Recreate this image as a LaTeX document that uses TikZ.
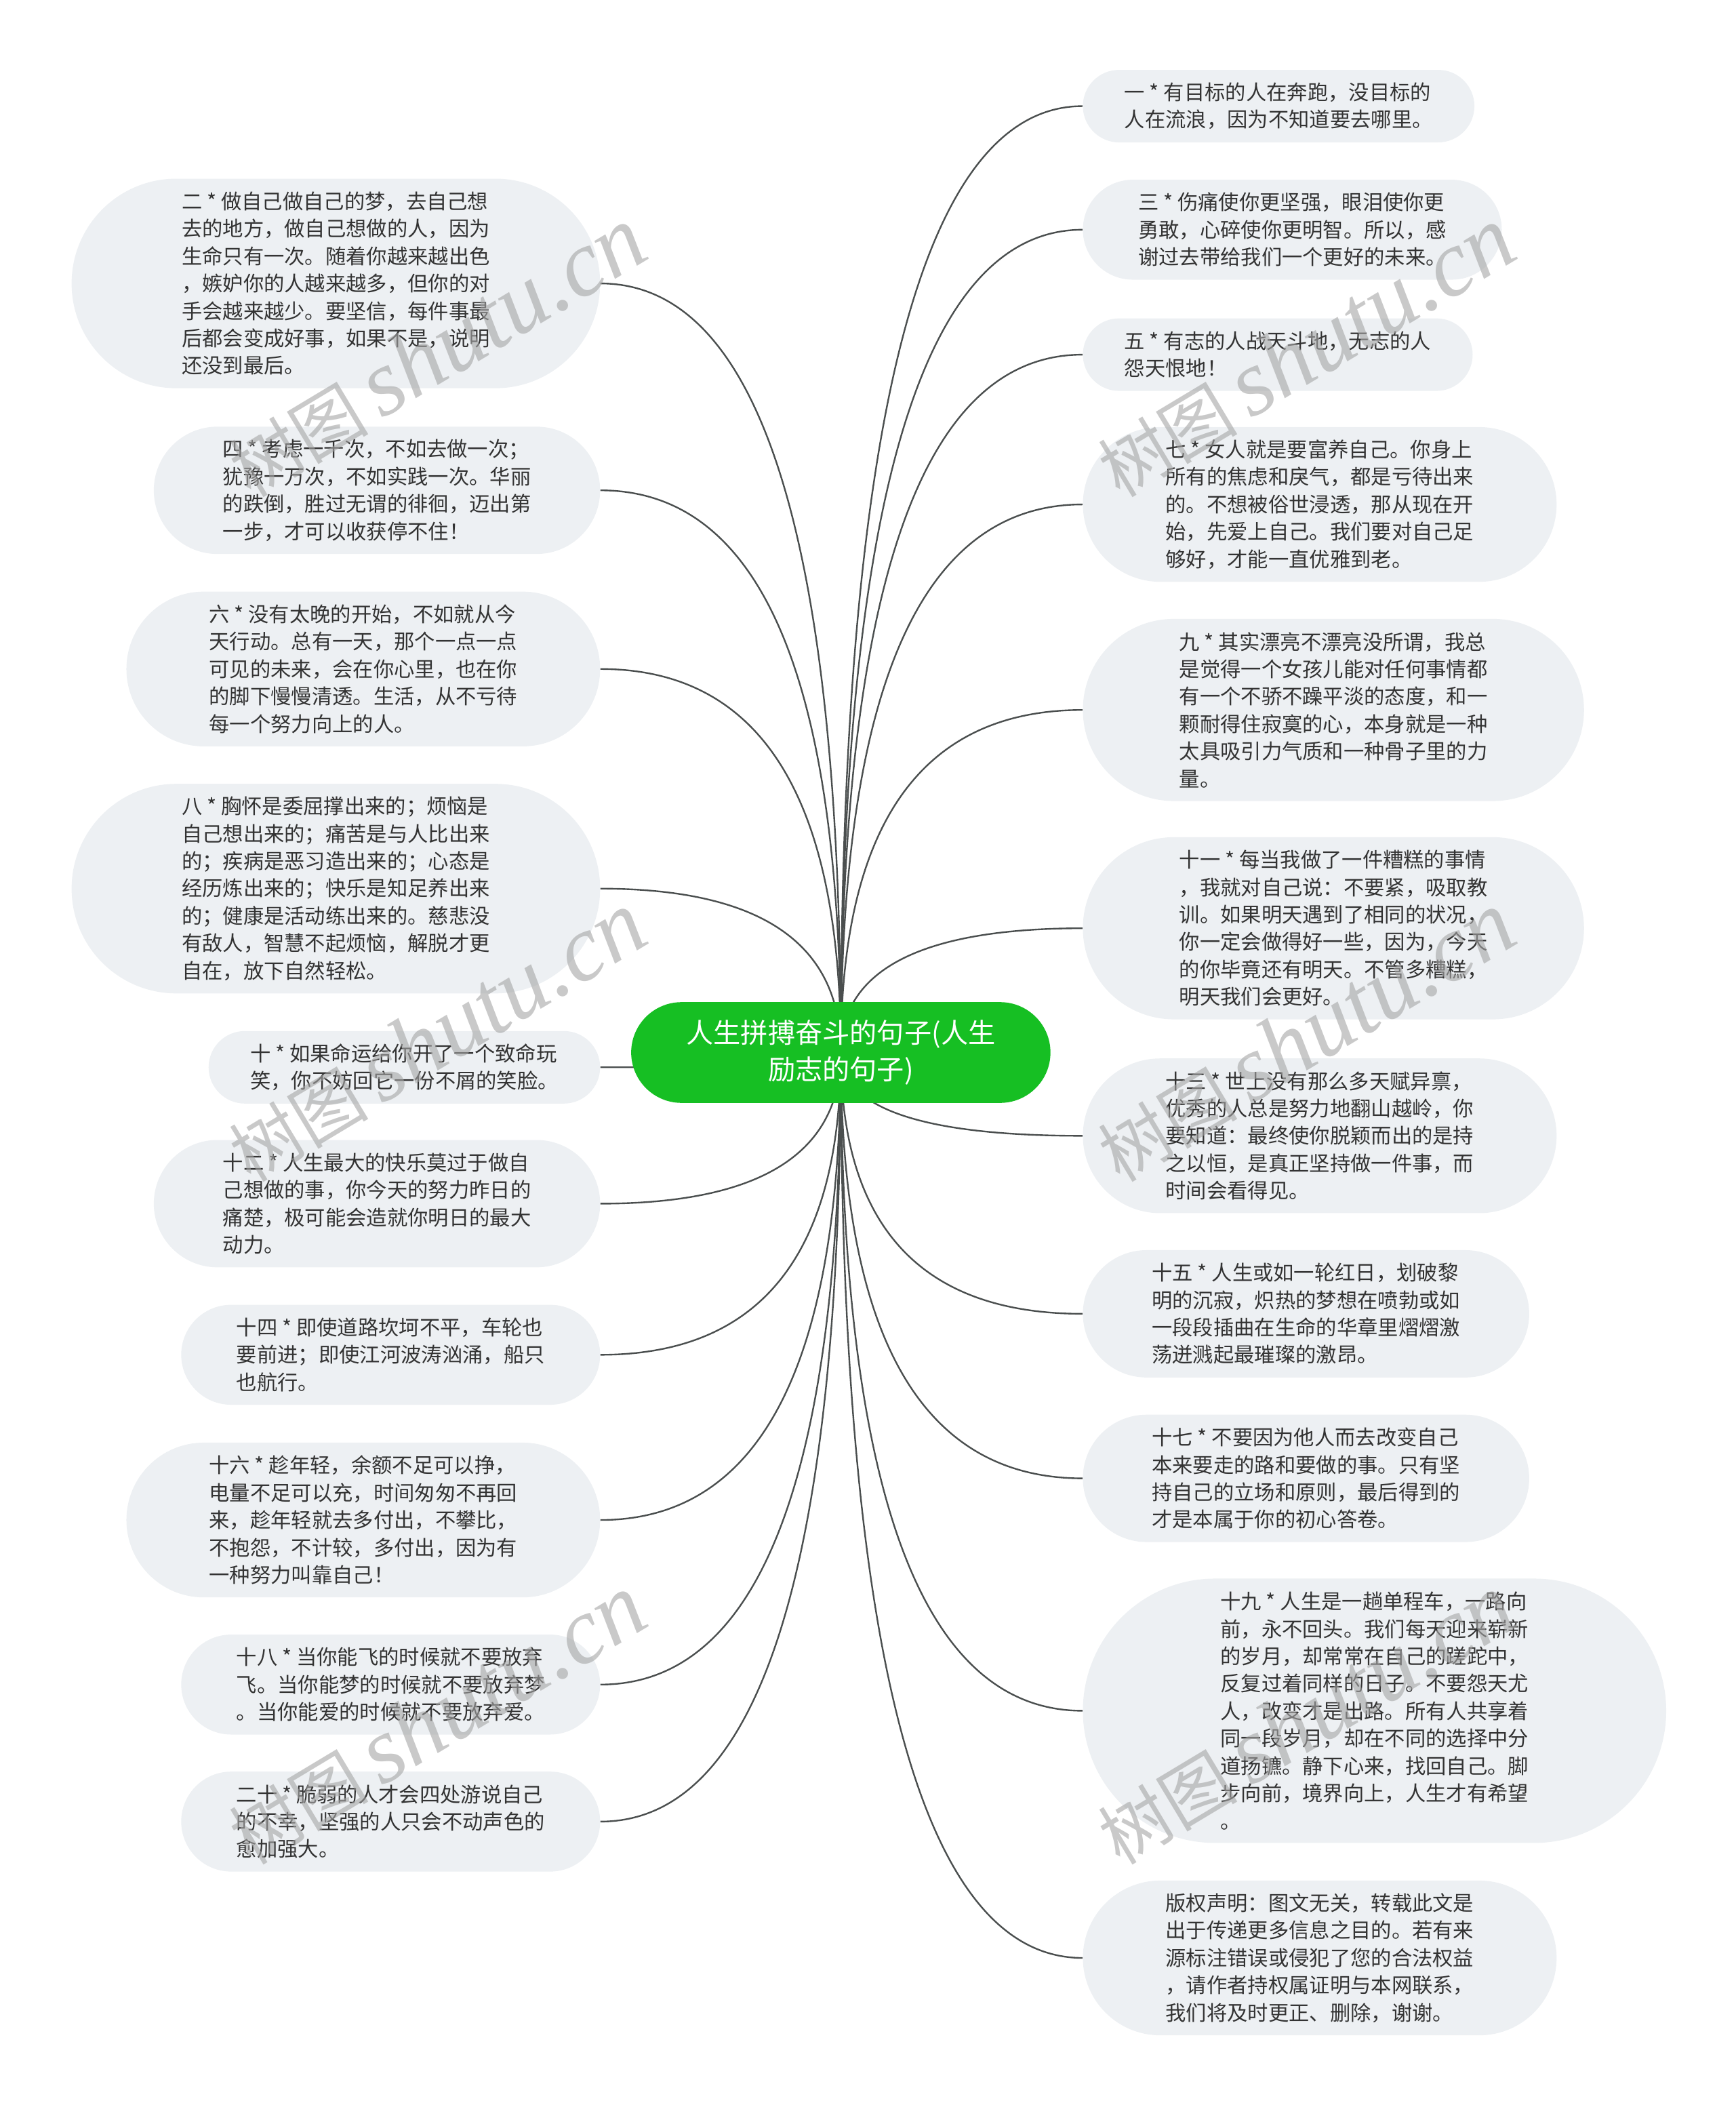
\documentclass[tikz,border=0pt]{standalone}
\usepackage{fontspec}
\usepackage{tikz}
\usetikzlibrary{positioning, backgrounds, calc}
\newfontfamily\cjk{Noto Sans CJK SC}
\newfontfamily\wmlatin{Liberation Serif}
\definecolor{leafcolor}{RGB}{237,240,243}
\definecolor{topiccolor}{RGB}{22,191,35}
\definecolor{inkcolor}{RGB}{51,51,51}
\definecolor{linkcolor}{RGB}{74,78,78}
\definecolor{markcolor}{RGB}{165,165,165}

\begin{document}
\begin{tikzpicture}[
    x=1pt, y=-1pt,
    leaf/.style={rectangle, rounded corners={#1*10.2+6.6}, fill=leafcolor, text=inkcolor, align=left, inner xsep={#1*10.2+10.6}, inner ysep=0pt, minimum height={#1*20.4+13.2}, font=\cjk\fontsize{15.3}{20.4}\selectfont},
    topic/.style={rectangle, rounded corners=37.5, fill=topiccolor, text=white, align=center, inner xsep=41, inner ysep=0pt, minimum height=75, font=\cjk\fontsize{20.3}{27}\selectfont},
    link/.style={draw=linkcolor, line width=1.2pt},
    wmark/.style={rotate=31, text=markcolor, text opacity=0.6}
]
    \useasboundingbox (0,0) rectangle (1292,1565.5);

    % Central topic
    \node[topic] (root) at (626,783.5) {人生拼搏奋斗的句子(人生\\励志的句子)};

    % Right branches
    \node[leaf=2, anchor=west] (r1) at (806,79) {一 * 有目标的人在奔跑，没目标的\\人在流浪，因为不知道要去哪里。};
    \node[leaf=3, anchor=west] (r2) at (806,171) {三 * 伤痛使你更坚强，眼泪使你更\\勇敢，心碎使你更明智。所以，感\\谢过去带给我们一个更好的未来。};
    \node[leaf=2, anchor=west] (r3) at (806,264) {五 * 有志的人战天斗地，无志的人\\怨天恨地！};
    \node[leaf=5, anchor=west] (r4) at (806,375.5) {七 * 女人就是要富养自己。你身上\\所有的焦虑和戾气，都是亏待出来\\的。不想被俗世浸透，那从现在开\\始，先爱上自己。我们要对自己足\\够好，才能一直优雅到老。};
    \node[leaf=6, anchor=west] (r5) at (806,528.5) {九 * 其实漂亮不漂亮没所谓，我总\\是觉得一个女孩儿能对任何事情都\\有一个不骄不躁平淡的态度，和一\\颗耐得住寂寞的心，本身就是一种\\太具吸引力气质和一种骨子里的力\\量。};
    \node[leaf=6, anchor=west] (r6) at (806,691) {十一 * 每当我做了一件糟糕的事情\\，我就对自己说：不要紧，吸取教\\训。如果明天遇到了相同的状况，\\你一定会做得好一些，因为，今天\\的你毕竟还有明天。不管多糟糕，\\明天我们会更好。};
    \node[leaf=5, anchor=west] (r7) at (806,845.5) {十三 * 世上没有那么多天赋异禀，\\优秀的人总是努力地翻山越岭，你\\要知道：最终使你脱颖而出的是持\\之以恒，是真正坚持做一件事，而\\时间会看得见。};
    \node[leaf=4, anchor=west] (r8) at (806,978) {十五 * 人生或如一轮红日，划破黎\\明的沉寂，炽热的梦想在喷勃或如\\一段段插曲在生命的华章里熠熠激\\荡迸溅起最璀璨的激昂。};
    \node[leaf=4, anchor=west] (r9) at (806,1100.5) {十七 * 不要因为他人而去改变自己\\本来要走的路和要做的事。只有坚\\持自己的立场和原则，最后得到的\\才是本属于你的初心答卷。};
    \node[leaf=9, anchor=west] (r10) at (806,1273.5) {十九 * 人生是一趟单程车，一路向\\前，永不回头。我们每天迎来崭新\\的岁月，却常常在自己的蹉跎中，\\反复过着同样的日子。不要怨天尤\\人，改变才是出路。所有人共享着\\同一段岁月，却在不同的选择中分\\道扬镳。静下心来，找回自己。脚\\步向前，境界向上，人生才有希望\\。};
    \node[leaf=5, anchor=west] (r11) at (806,1457.5) {版权声明：图文无关，转载此文是\\出于传递更多信息之目的。若有来\\源标注错误或侵犯了您的合法权益\\，请作者持权属证明与本网联系，\\我们将及时更正、删除，谢谢。};

    % Left branches
    \node[leaf=7, anchor=east] (l1) at (447,211) {二 * 做自己做自己的梦，去自己想\\去的地方，做自己想做的人，因为\\生命只有一次。随着你越来越出色\\，嫉妒你的人越来越多，但你的对\\手会越来越少。要坚信，每件事最\\后都会变成好事，如果不是，说明\\还没到最后。};
    \node[leaf=4, anchor=east] (l2) at (447,365) {四 * 考虑一千次，不如去做一次；\\犹豫一万次，不如实践一次。华丽\\的跌倒，胜过无谓的徘徊，迈出第\\一步，才可以收获停不住！};
    \node[leaf=5, anchor=east] (l3) at (447,498) {六 * 没有太晚的开始，不如就从今\\天行动。总有一天，那个一点一点\\可见的未来，会在你心里，也在你\\的脚下慢慢清透。生活，从不亏待\\每一个努力向上的人。};
    \node[leaf=7, anchor=east] (l4) at (447,661.5) {八 * 胸怀是委屈撑出来的；烦恼是\\自己想出来的；痛苦是与人比出来\\的；疾病是恶习造出来的；心态是\\经历炼出来的；快乐是知足养出来\\的；健康是活动练出来的。慈悲没\\有敌人，智慧不起烦恼，解脱才更\\自在，放下自然轻松。};
    \node[leaf=2, anchor=east] (l5) at (447,794.5) {十 * 如果命运给你开了一个致命玩\\笑，你不妨回它一份不屑的笑脸。};
    \node[leaf=4, anchor=east] (l6) at (447,896) {十二 * 人生最大的快乐莫过于做自\\己想做的事，你今天的努力昨日的\\痛楚，极可能会造就你明日的最大\\动力。};
    \node[leaf=3, anchor=east] (l7) at (447,1008.5) {十四 * 即使道路坎坷不平，车轮也\\要前进；即使江河波涛汹涌，船只\\也航行。};
    \node[leaf=5, anchor=east] (l8) at (447,1131.5) {十六 * 趁年轻，余额不足可以挣，\\电量不足可以充，时间匆匆不再回\\来，趁年轻就去多付出，不攀比，\\不抱怨，不计较，多付出，因为有\\一种努力叫靠自己！};
    \node[leaf=3, anchor=east] (l9) at (447,1254) {十八 * 当你能飞的时候就不要放弃\\飞。当你能梦的时候就不要放弃梦\\。当你能爱的时候就不要放弃爱。};
    \node[leaf=3, anchor=east] (l10) at (447,1356) {二十 * 脆弱的人才会四处游说自己\\的不幸，坚强的人只会不动声色的\\愈加强大。};

    % Curved links behind the nodes
    \begin{scope}[on background layer]
        \foreach \i in {1,...,11}
            \draw[link] (root.center) .. controls ($(root.center)!2/3!(root.center |- r\i.west)$) and ($(r\i.west)!2/3!(root.center |- r\i.west)$) .. (r\i.west);
        \foreach \i in {1,...,10}
            \draw[link] (root.center) .. controls ($(root.center)!2/3!(root.center |- l\i.east)$) and ($(l\i.east)!2/3!(root.center |- l\i.east)$) .. (l\i.east);
    \end{scope}

    % Watermarks
    \node[wmark] (wm1) at (325,262) {{\cjk\fontsize{52}{52}\selectfont 树图}\hspace{10pt}{\wmlatin\itshape\fontsize{70}{70}\selectfont shutu.cn}};
    \node[wmark] (wm2) at (972,262) {{\cjk\fontsize{52}{52}\selectfont 树图}\hspace{10pt}{\wmlatin\itshape\fontsize{70}{70}\selectfont shutu.cn}};
    \node[wmark] (wm3) at (325,772) {{\cjk\fontsize{52}{52}\selectfont 树图}\hspace{10pt}{\wmlatin\itshape\fontsize{70}{70}\selectfont shutu.cn}};
    \node[wmark] (wm4) at (972,772) {{\cjk\fontsize{52}{52}\selectfont 树图}\hspace{10pt}{\wmlatin\itshape\fontsize{70}{70}\selectfont shutu.cn}};
    \node[wmark] (wm5) at (325,1280) {{\cjk\fontsize{52}{52}\selectfont 树图}\hspace{10pt}{\wmlatin\itshape\fontsize{70}{70}\selectfont shutu.cn}};
    \node[wmark] (wm6) at (972,1280) {{\cjk\fontsize{52}{52}\selectfont 树图}\hspace{10pt}{\wmlatin\itshape\fontsize{70}{70}\selectfont shutu.cn}};
\end{tikzpicture}
\end{document}
